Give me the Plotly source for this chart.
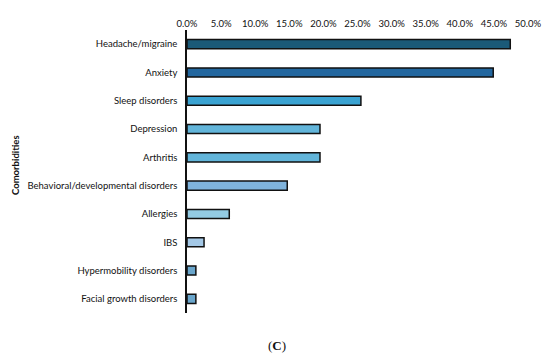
import plotly.graph_objects as go

categories = ["Headache/migraine", "Anxiety", "Sleep disorders", "Depression", "Arthritis",
              "Behavioral/developmental disorders", "Allergies", "IBS",
              "Hypermobility disorders", "Facial growth disorders"]
values = [47.4, 44.9, 25.5, 19.5, 19.5, 14.7, 6.2, 2.5, 1.3, 1.3]
colors = ["#1b5a78", "#23679f", "#3aa3d2", "#62b5da", "#62b5da",
          "#7fb3dc", "#93cbe3", "#a4c8e6", "#6aa6cc", "#6aa6cc"]
tick_vals = [0, 5, 10, 15, 20, 25, 30, 35, 40, 45, 50]
tick_text = [f"{v:.1f}%" for v in tick_vals]

# page body has an 8px default margin; figure sized to fit the 550x362 window
OFF = 8
W, H = 550 - 2 * OFF, 362 - 2 * OFF
L = 187 - OFF
T = 30 - OFF
R = (W + OFF) - 528
B = (H + OFF) - 313
pw = W - L - R
ph = H - T - B


def px_x(x):
    return (x - OFF - L) / pw


def px_y(y):
    return (H + OFF - B - y) / ph


fig = go.Figure(go.Bar(
    x=values, y=categories, orientation="h",
    marker=dict(color=colors, line=dict(color="#111111", width=1.5)),
    width=0.32,
))

fig.update_layout(
    width=W, height=H,
    margin=dict(l=L, r=R, t=T, b=B),
    plot_bgcolor="white", paper_bgcolor="white",
    font=dict(family="Lato, Carlito, sans-serif", size=9.5, color="#111111"),
    showlegend=False,
    xaxis=dict(side="top", range=[0, 50], tickvals=tick_vals, ticktext=tick_text,
               showgrid=False, zeroline=False, showline=False, ticks="",
               automargin=False, fixedrange=True),
    yaxis=dict(autorange=False, range=[9.5, -0.5], showgrid=False,
               showline=True, linecolor="#111111", linewidth=1.5,
               ticks="outside", ticklen=6, tickcolor="rgba(0,0,0,0)",
               automargin=False, fixedrange=True),
    annotations=[
        dict(text="(<b>C</b>)", x=px_x(277), y=px_y(345), xref="paper", yref="paper",
             xanchor="center", yanchor="middle", showarrow=False,
             font=dict(family="Liberation Serif, serif", size=13, color="#111111")),
        dict(text="<b>Comorbidities</b>", x=px_x(16), y=px_y(165),
             xref="paper", yref="paper", xanchor="center", yanchor="middle",
             textangle=-90, showarrow=False, font=dict(size=9.5, color="#111111")),
    ],
)

fig.write_html("out.html")
